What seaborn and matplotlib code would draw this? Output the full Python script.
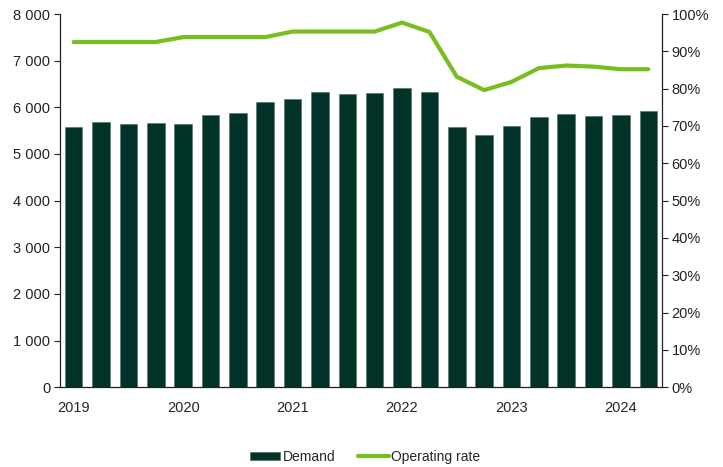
import matplotlib
matplotlib.use("Agg")
import matplotlib.pyplot as plt
import matplotlib.font_manager as fm
from matplotlib.patches import Patch
from matplotlib.lines import Line2D
from matplotlib.ticker import FuncFormatter, MultipleLocator
import seaborn as sns
import pandas as pd
import numpy as np

# Quarterly series, 2019 Q1 - 2024 Q2
quarters = [f"{y} Q{q}" for y in range(2019, 2025) for q in range(1, 5)][:22]
demand = [5570, 5680, 5635, 5660, 5635, 5835, 5880, 6105, 6185, 6335, 6285,
          6300, 6415, 6330, 5570, 5400, 5595, 5785, 5855, 5815, 5835, 5915]
operating_rate = [92.5, 92.5, 92.5, 92.5, 93.8, 93.8, 93.8, 93.8, 95.3, 95.3, 95.3,
                  95.3, 97.7, 95.2, 83.2, 79.6, 81.8, 85.5, 86.2, 85.9, 85.2, 85.2]
year_labels = ["2019", "2020", "2021", "2022", "2023", "2024"]

BAR = "#013328"
LINE = "#78be21"

sns.set_theme(style="ticks")
names = {f.name for f in fm.fontManager.ttflist}
base_font = "Liberation Sans" if "Liberation Sans" in names else "DejaVu Sans"
narrow_font = "Liberation Sans Narrow" if "Liberation Sans Narrow" in names else base_font
plt.rcParams["font.family"] = [base_font, "DejaVu Sans"]

df = pd.DataFrame({"quarter": quarters, "demand": demand,
                   "rate": operating_rate, "pos": np.arange(len(quarters))})

fig = plt.figure(figsize=(7.23, 4.67), dpi=100)
ax = fig.add_axes([0.083, 0.171, 0.8326, 0.799])

sns.barplot(data=df, x="quarter", y="demand", color=BAR, width=0.64,
            saturation=1, edgecolor="#4f6f66", linewidth=0.4, ax=ax)
ax.set_xlim(-0.5, 21.5)
ax.set_ylim(0, 8000)
ax.yaxis.set_major_locator(MultipleLocator(1000))
ax.yaxis.set_major_formatter(FuncFormatter(lambda v, p: f"{int(v):,}".replace(",", " ")))
ax.set_xlabel("")
ax.set_ylabel("")
ax.set_xticks(range(0, 22, 4))
ax.set_xticklabels(year_labels, fontfamily=narrow_font, fontsize=10.5)
ax.tick_params(axis="x", length=0, pad=10)
ax.tick_params(axis="y", length=4, width=0.8, labelsize=10.5, pad=3, colors="#222222")
for s in ("top", "right"):
    ax.spines[s].set_visible(False)
for s in ("left", "bottom"):
    ax.spines[s].set_color("#222222")
    ax.spines[s].set_linewidth(0.9)

ax2 = ax.twinx()
sns.lineplot(data=df, x="pos", y="rate", color=LINE, linewidth=3, ax=ax2)
ax2.set_ylim(0, 100)
ax2.set_xlim(-0.5, 21.5)
ax2.yaxis.set_major_locator(MultipleLocator(10))
ax2.yaxis.set_major_formatter(FuncFormatter(lambda v, p: f"{int(v)}%"))
ax2.set_ylabel("")
ax2.set_xlabel("")
ax2.tick_params(axis="y", length=4, width=0.8, labelsize=10.5, pad=3, colors="#222222")
for s in ("top", "left", "bottom"):
    ax2.spines[s].set_visible(False)
ax2.spines["right"].set_color("#222222")
ax2.spines["right"].set_linewidth(0.9)

handles = [Patch(facecolor=BAR, edgecolor="#4f6f66", linewidth=0.5),
           Line2D([0], [0], color=LINE, linewidth=3)]
fig.legend(handles, ["Demand", "Operating rate"], loc="center",
           bbox_to_anchor=(0.505, 0.022), ncol=2, frameon=False,
           handlelength=2.2, handleheight=0.5, handletextpad=0.2, columnspacing=1.6,
           prop={"family": narrow_font, "size": 10})

fig.savefig("out.png", dpi=100)
